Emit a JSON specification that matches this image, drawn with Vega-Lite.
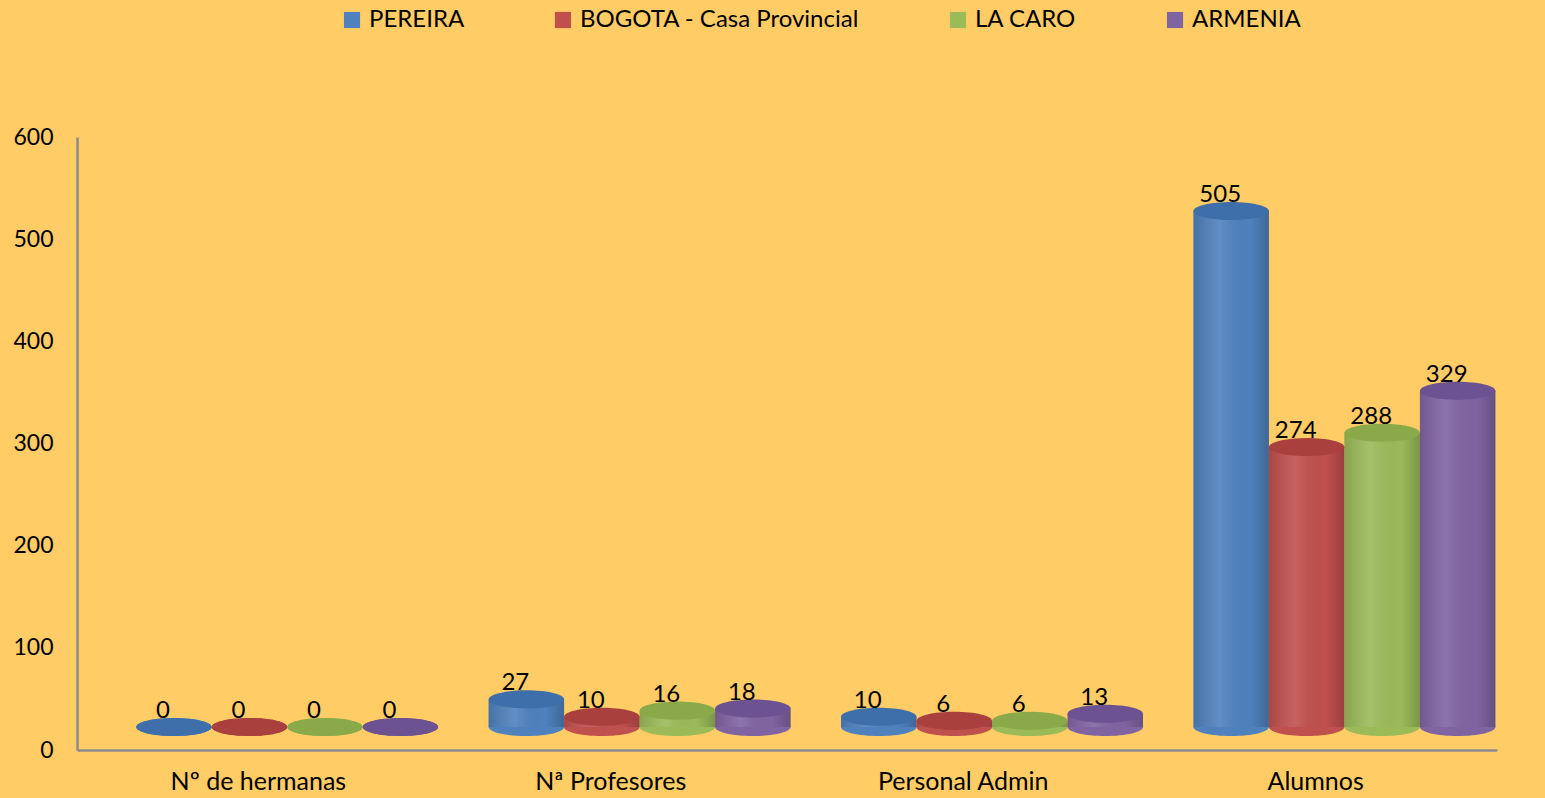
{
  "$schema": "https://vega.github.io/schema/vega-lite/v6.json",
  "width": 1420,
  "height": 613,
  "autosize": {"type": "none"},
  "padding": {"left": 77, "top": 137, "right": 48, "bottom": 48},
  "background": "#FFCC66",
  "config": {
    "view": {"stroke": null},
    "font": "Lato",
    "axis": {"domainColor": "#8C8C8C", "domainWidth": 2.5, "ticks": false, "grid": false, "labelColor": "#000000", "labelFont": "Lato", "title": null}
  },
  "data": {
    "values": [
      {"categoria": "Nº de hermanas", "sede": "PEREIRA", "valor": 0},
      {"categoria": "Nº de hermanas", "sede": "BOGOTA - Casa Provincial", "valor": 0},
      {"categoria": "Nº de hermanas", "sede": "LA CARO", "valor": 0},
      {"categoria": "Nº de hermanas", "sede": "ARMENIA", "valor": 0},
      {"categoria": "Nª Profesores", "sede": "PEREIRA", "valor": 27},
      {"categoria": "Nª Profesores", "sede": "BOGOTA - Casa Provincial", "valor": 10},
      {"categoria": "Nª Profesores", "sede": "LA CARO", "valor": 16},
      {"categoria": "Nª Profesores", "sede": "ARMENIA", "valor": 18},
      {"categoria": "Personal Admin", "sede": "PEREIRA", "valor": 10},
      {"categoria": "Personal Admin", "sede": "BOGOTA - Casa Provincial", "valor": 6},
      {"categoria": "Personal Admin", "sede": "LA CARO", "valor": 6},
      {"categoria": "Personal Admin", "sede": "ARMENIA", "valor": 13},
      {"categoria": "Alumnos", "sede": "PEREIRA", "valor": 505},
      {"categoria": "Alumnos", "sede": "BOGOTA - Casa Provincial", "valor": 274},
      {"categoria": "Alumnos", "sede": "LA CARO", "valor": 288},
      {"categoria": "Alumnos", "sede": "ARMENIA", "valor": 329}
    ]
  },
  "encoding": {
    "x": {
      "field": "categoria", "type": "nominal",
      "sort": ["Nº de hermanas", "Nª Profesores", "Personal Admin", "Alumnos"],
      "scale": {"paddingInner": 0, "paddingOuter": 0.0147},
      "axis": {"labelAngle": 0, "labelFontSize": 25, "labelPadding": 19}
    },
    "xOffset": {
      "field": "sede", "type": "nominal",
      "sort": ["PEREIRA", "BOGOTA - Casa Provincial", "LA CARO", "ARMENIA"],
      "scale": {"range": [54, 356], "paddingInner": 0, "paddingOuter": 0}
    },
    "y": {
      "field": "valor", "type": "quantitative",
      "scale": {"domain": [0, 600], "nice": false},
      "axis": {"values": [0, 100, 200, 300, 400, 500, 600], "labelFontSize": 23, "labelPadding": 24}
    }
  },
  "layer": [
    {
      "mark": {"type": "point", "shape": "M -1 0 A 1 0.24 0 1 0 1 0 A 1 0.24 0 1 0 -1 0 Z", "size": 5700, "filled": true, "opacity": 1, "strokeWidth": 0, "yOffset": -23},
      "encoding": {
        "y": {"datum": 0},
        "color": {
          "field": "sede", "type": "nominal",
          "sort": ["PEREIRA", "BOGOTA - Casa Provincial", "LA CARO", "ARMENIA"],
          "scale": {"domain": ["PEREIRA", "BOGOTA - Casa Provincial", "LA CARO", "ARMENIA"], "range": ["#4F81BD", "#C0504D", "#9BBB59", "#8064A2"]},
          "legend": {
            "title": null, "orient": "none", "direction": "horizontal",
            "legendX": 263, "legendY": -129,
            "symbolType": "square", "symbolSize": 260, "symbolStrokeWidth": 0, "symbolOpacity": 1,
            "labelFontSize": 24, "labelColor": "#000000", "labelOffset": 5, "labelLimit": 0,
            "columnPadding": 86
          }
        }
      }
    },
    {
      "mark": {"type": "bar", "yOffset": -23, "y2Offset": -23},
      "encoding": {
        "y2": {"datum": 0},
        "color": {
          "field": "sede", "type": "nominal",
          "sort": ["PEREIRA", "BOGOTA - Casa Provincial", "LA CARO", "ARMENIA"]
        }
      }
    },
    {
      "mark": {
        "type": "bar", "yOffset": -23, "y2Offset": -23,
        "fill": {"gradient": "linear", "x1": 0, "x2": 1, "y1": 0, "y2": 0,
          "stops": [
            {"offset": 0, "color": "rgba(0,0,0,0.12)"},
            {"offset": 0.35, "color": "rgba(255,255,255,0.10)"},
            {"offset": 0.75, "color": "rgba(0,0,0,0.0)"},
            {"offset": 1, "color": "rgba(0,0,0,0.2)"}
          ]}
      },
      "encoding": {"y2": {"datum": 0}}
    },
    {
      "mark": {"type": "point", "shape": "M -1 0 A 1 0.24 0 1 0 1 0 A 1 0.24 0 1 0 -1 0 Z", "size": 5700, "filled": true, "opacity": 1, "strokeWidth": 0, "yOffset": -23},
      "encoding": {
        "fill": {
          "field": "sede", "type": "nominal",
          "scale": {"domain": ["PEREIRA", "BOGOTA - Casa Provincial", "LA CARO", "ARMENIA"], "range": ["#3F6FAA", "#A9403D", "#8AAA4A", "#6C5290"]},
          "legend": null
        }
      }
    },
    {
      "mark": {"type": "text", "baseline": "alphabetic", "dy": -32, "dx": -11, "fontSize": 24, "color": "#000000"},
      "encoding": {"text": {"field": "valor", "type": "quantitative"}}
    }
  ]
}
